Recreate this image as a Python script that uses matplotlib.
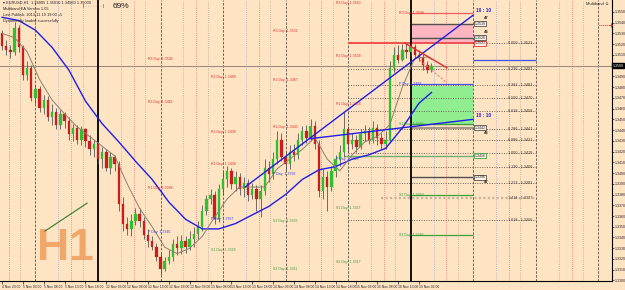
import matplotlib
matplotlib.use("Agg")
import matplotlib.pyplot as plt
from matplotlib.patches import Rectangle
import numpy as np

# ---------------- data (EURUSD H1) ----------------
opens = [1.3530,1.3518,1.3515,1.3513,1.3535,1.3517,1.3491,1.3498,1.3470,1.3478,
1.3461,1.3468,1.3452,1.3457,1.3445,1.3455,1.3448,1.3436,1.3442,1.3431,
1.3441,1.3430,1.3422,1.3427,1.3413,1.3420,1.3405,1.3415,1.3408,1.3371,
1.3353,1.3348,1.3355,1.3362,1.3355,1.3342,1.3337,1.3331,1.3322,1.3311,
1.3318,1.3322,1.3334,1.3330,1.3337,1.3331,1.3339,1.3343,1.3350,1.3365,
1.3376,1.3380,1.3357,1.3385,1.3394,1.3402,1.3390,1.3396,1.3385,1.3391,
1.3380,1.3385,1.3376,1.3383,1.3405,1.3399,1.3413,1.3431,1.3415,1.3408,
1.3420,1.3417,1.3431,1.3439,1.3433,1.3444,1.3427,1.3383,1.3396,1.3387,
1.3402,1.3413,1.3420,1.3441,1.3427,1.3431,1.3424,1.3436,1.3439,1.3431,
1.3442,1.3433,1.3427,1.3431,1.3498,1.3510,1.3505,1.3515,1.3513,1.3517,
1.3510,1.3507,1.3501,1.3496]
highs = [1.3533,1.3524,1.3519,1.3541,1.3538,1.3519,1.3504,1.3501,1.3482,1.3481,
1.3473,1.3472,1.3464,1.3461,1.3459,1.3457,1.3452,1.3446,1.3445,1.3444,
1.3442,1.3435,1.3431,1.3430,1.3424,1.3422,1.3420,1.3417,1.3411,1.3378,
1.3359,1.3362,1.3367,1.3367,1.3359,1.3348,1.3341,1.3335,1.3326,1.3322,
1.3328,1.3339,1.3341,1.3342,1.3341,1.3346,1.3350,1.3355,1.3370,1.3380,
1.3385,1.3383,1.3390,1.3402,1.3407,1.3405,1.3402,1.3400,1.3396,1.3394,
1.3391,1.3389,1.3389,1.3413,1.3411,1.3420,1.3439,1.3437,1.3420,1.3426,
1.3427,1.3437,1.3444,1.3445,1.3450,1.3448,1.3431,1.3404,1.3402,1.3407,
1.3417,1.3426,1.3457,1.3444,1.3437,1.3435,1.3441,1.3445,1.3443,1.3448,
1.3446,1.3437,1.3439,1.3504,1.3517,1.3519,1.3520,1.3520,1.3521,1.3520,
1.3515,1.3511,1.3504,1.3502]
lows = [1.3515,1.3510,1.3507,1.3510,1.3513,1.3487,1.3487,1.3467,1.3464,1.3457,
1.3455,1.3448,1.3445,1.3441,1.3441,1.3442,1.3431,1.3430,1.3427,1.3426,
1.3424,1.3417,1.3415,1.3408,1.3405,1.3402,1.3399,1.3402,1.3365,1.3346,
1.3342,1.3341,1.3352,1.3350,1.3339,1.3331,1.3328,1.3318,1.3305,1.3309,
1.3315,1.3318,1.3324,1.3325,1.3326,1.3328,1.3331,1.3339,1.3346,1.3361,
1.3371,1.3353,1.3354,1.3380,1.3387,1.3385,1.3383,1.3380,1.3378,1.3374,
1.3376,1.3365,1.3359,1.3380,1.3392,1.3394,1.3408,1.3411,1.3402,1.3404,
1.3411,1.3413,1.3426,1.3428,1.3430,1.3422,1.3378,1.3376,1.3365,1.3383,
1.3396,1.3407,1.3415,1.3420,1.3422,1.3420,1.3422,1.3430,1.3427,1.3428,
1.3426,1.3422,1.3422,1.3428,1.3494,1.3502,1.3504,1.3507,1.3509,1.3507,
1.3504,1.3496,1.3493,1.3494]
closes = [1.3518,1.3515,1.3513,1.3535,1.3517,1.3491,1.3498,1.3470,1.3478,1.3461,
1.3468,1.3452,1.3457,1.3445,1.3455,1.3448,1.3436,1.3442,1.3431,1.3441,
1.3430,1.3422,1.3427,1.3413,1.3420,1.3405,1.3415,1.3408,1.3371,1.3353,
1.3348,1.3355,1.3362,1.3355,1.3342,1.3337,1.3331,1.3322,1.3311,1.3318,
1.3322,1.3334,1.3330,1.3337,1.3331,1.3339,1.3343,1.3350,1.3365,1.3376,
1.3380,1.3357,1.3385,1.3394,1.3402,1.3390,1.3396,1.3385,1.3391,1.3380,
1.3385,1.3376,1.3383,1.3405,1.3399,1.3413,1.3431,1.3415,1.3408,1.3420,
1.3417,1.3431,1.3439,1.3433,1.3444,1.3427,1.3383,1.3396,1.3387,1.3402,
1.3413,1.3420,1.3441,1.3427,1.3431,1.3424,1.3436,1.3439,1.3431,1.3442,
1.3433,1.3427,1.3431,1.3498,1.3510,1.3505,1.3515,1.3513,1.3517,1.3510,
1.3507,1.3501,1.3496,1.3500]

slow_ma_idx = [0,4,8,12,16,20,24,28,32,36,40,44,48,52,56,60,64,68,72,76,80,84,88,92,96,100,103]
slow_ma = [1.3545,1.3542,1.3533,1.3517,1.3496,1.3467,1.3446,1.3429,1.3411,1.3394,1.3373,1.3357,
           1.3348,1.3348,1.3353,1.3361,1.3369,1.3380,1.3394,1.3403,1.3406,1.3413,1.3417,1.3423,
           1.3442,1.3465,1.3475]
fast_ma_idx = [0,3,6,9,12,15,18,21,24,27,30,33,36,39,42,45,48,51,54,57,60,63,66,69,72,75,78,81,
               84,87,90,93,96,99,102,103]
fast_ma = [1.3530,1.3526,1.3513,1.3487,1.3468,1.3455,1.3443,1.3434,1.3425,1.3416,1.3390,1.3367,
           1.3350,1.3331,1.3325,1.3330,1.3341,1.3359,1.3376,1.3387,1.3387,1.3387,1.3404,1.3413,
           1.3422,1.3433,1.3413,1.3402,1.3417,1.3429,1.3434,1.3445,1.3480,1.3507,1.3508,1.3506]

current_price = 1.3500

# pivot labels of previous days: (bar, price, text, kind)
pivot_labels = [
    (35, 1.3506, "R3 Day: 1.3506", "r"), (35, 1.3466, "R2 Day: 1.3466", "r"),
    (35, 1.3386, "R1 Day: 1.3386", "r"), (35, 1.3345, "P Day: 1.3345", "p"),
    (50, 1.3489, "R3 Day: 1.3489", "r"), (50, 1.3438, "R2 Day: 1.3438", "r"),
    (50, 1.3408, "R1 Day: 1.3408", "r"), (50, 1.3357, "P Day: 1.3357", "p"),
    (50, 1.3328, "S1 Day: 1.3328", "s"),
    (65, 1.3532, "R3 Day: 1.3532", "r"), (65, 1.3487, "R2 Day: 1.3487", "r"),
    (65, 1.3443, "R1 Day: 1.3443", "r"), (65, 1.3399, "P Day: 1.3399", "p"),
    (65, 1.3355, "S1 Day: 1.3355", "s"), (65, 1.3311, "S2 Day: 1.3311", "s"),
    (80, 1.3558, "R3 Day: 1.3560", "r"), (80, 1.3509, "R2 Day: 1.3509", "r"),
    (80, 1.3464, "R1 Day: 1.3464", "r"), (80, 1.3413, "P Day: 1.3413", "p"),
    (80, 1.3367, "S1 Day: 1.3367", "s"), (80, 1.3317, "S2 Day: 1.3317", "s"),
    (95.3, 1.3549, "R3 Day: 1.3549", "r"), (95.3, 1.3483, "P Day: 1.3483", "p"),
    (95.3, 1.3446, "S1 Day: 1.3446", "s"), (95.3, 1.3380, "S2 Day: 1.3380", "s"),
    (95.3, 1.3342, "S3 Day: 1.3342", "s"),
]

fib_ratios = [0.000, 0.236, 0.382, 0.500, 0.618, 0.786, 0.886, 1.000, 1.130, 1.272, 1.414, 1.618]
fib_prices = [1.3521, 1.3497, 1.3482, 1.3470, 1.3458, 1.3441, 1.3431, 1.3419, 1.3406, 1.3391, 1.3377, 1.3356]

date_labels = ["4 Nov 20:00","5 Nov 03:00","5 Nov 08:00","5 Nov 13:00","5 Nov 18:00",
               "12 Nov 03:00","12 Nov 08:00","12 Nov 13:00","12 Nov 18:00","13 Nov 03:00",
               "13 Nov 08:00","13 Nov 13:00","13 Nov 18:00","14 Nov 03:00","14 Nov 08:00",
               "14 Nov 13:00","14 Nov 18:00","15 Nov 03:00","15 Nov 08:00","18 Nov 13:00",
               "19 Nov 02:00"]
price_tick_labels = ["1.3%03d" % v for v in range(550, 299, -10)]

# ---------------- styling ----------------
BG = "#FFE4C4"
plt.rcParams["font.family"] = ["Liberation Sans", "DejaVu Sans"]

fig = plt.figure(figsize=(6.25, 2.9), dpi=100, facecolor=BG)
ax = fig.add_axes([0, 9/290, 612/625, 281/290], facecolor=BG)
ax.set_xlim(-0.5, 146.3)
ax.set_ylim(1.32995, 1.35611)

# vertical grid lines
for d in [-7, 8, 23, 38, 53, 68, 83, 98, 113, 128, 143]:
    if d in (23, 98):
        ax.axvline(d, color="black", lw=1.3, zorder=2.5)
    else:
        ax.axvline(d, color="#6E6255", lw=0.7, ls=(0, (2.5, 1.5)), zorder=1)
    ax.axvline(d + 5.5, color="#A6A6D2", lw=0.6, ls=(0, (1, 1.5)), zorder=1)
    ax.axvline(d + 8.6, color="#F07070", lw=0.6, ls=(0, (1, 1.5)), zorder=1)
    ax.axvline(d + 11.3, color="#B9A68F", lw=0.6, ls=(0, (1, 1.5)), zorder=1)

# bid line
ax.axhline(current_price, color="#9A8C7E", lw=0.8, zorder=2)

# current-day zones
ax.add_patch(Rectangle((98, 1.3521), 15, 1.3539 - 1.3521, facecolor="#FFB6C1", edgecolor="none", zorder=1.5))
ax.add_patch(Rectangle((98, 1.3446), 15, 1.3481 - 1.3446, facecolor="#90EE90", edgecolor="none", zorder=1.5))

def hline(y, x0, x1, color, lw=0.9, ls="-", z=2):
    ax.plot([x0, x1], [y, y], color=color, lw=lw, ls=ls, zorder=z, solid_capstyle="butt")

hline(1.3549, 98, 113, "#F06060", 0.9)
hline(1.3539, 98, 113, "#505050", 1.0)
hline(1.3526, 98, 113, "#505050", 1.0)
hline(1.3521, 83, 113, "#F05050", 1.4)
hline(1.3505, 113, 128, "#4050E0", 0.9)
hline(1.3483, 98, 113, "#4050E0", 0.9)
hline(1.3446, 98, 113, "#3CA03C", 1.0)
hline(1.3442, 98, 113, "#A89888", 1.5)
hline(1.3416, 82, 113, "#70B070", 1.0)
hline(1.3396, 98, 113, "#505050", 1.0)
hline(1.3380, 98, 113, "#3CA03C", 0.9)
hline(1.3342, 98, 113, "#3CA03C", 0.9)

# fibonacci levels
for r, p in zip(fib_ratios, fib_prices):
    if abs(r - 1.414) < 1e-6:
        hline(p, 91, 128, "#C8B49B", 1.6, (0, (1, 1)), 1.8)
    else:
        hline(p, 83, 128, "#6E6255", 0.7, (0, (1, 1.5)), 1.8)
    ax.text(121.3, p, "%.3f - %.4f" % (r, p), fontsize=2.7, color="#333333",
            va="center", ha="left", zorder=5)

# candles
x = np.arange(len(closes))
o = np.array(opens); c = np.array(closes); h = np.array(highs); l = np.array(lows)
up = c >= o
ax.vlines(x, l, h, colors="#4A4A4A", lw=0.55, zorder=3)
body_col = np.where(up, "#2EC02E", "#C81E1E")
ax.bar(x, np.maximum(np.abs(c - o), 0.00004), bottom=np.minimum(o, c), width=0.58,
       color=body_col, edgecolor=body_col, lw=0.2, zorder=3.2)

# moving averages
ax.plot(slow_ma_idx, slow_ma, color="#1E1EE6", lw=1.0, zorder=4)
ax.plot(fast_ma_idx, fast_ma, color="#8C7F6E", lw=0.7, zorder=4)

# trend lines
ax.plot([58.3, 113], [1.3387, 1.3547], color="#1E1EE6", lw=1.0, zorder=4)
ax.plot([73.9, 113], [1.3432, 1.3450], color="#1E1EE6", lw=1.0, zorder=4)
ax.plot([96.6, 106.7], [1.3521, 1.3498], color="#E03030", lw=1.0, zorder=4)
ax.plot([100.2, 106.7], [1.3505, 1.3484], color="#F08080", lw=0.8, ls=(0, (2, 1.5)), zorder=4)
ax.plot([10.3, 20.4], [1.3346, 1.3372], color="#2E7D2E", lw=0.8, zorder=4)

# pivot labels
pcol = {"r": "#E03030", "p": "#3040E0", "s": "#3C963C"}
for bx, py, txt, k in pivot_labels:
    ax.text(bx, py, txt, fontsize=2.5, color=pcol[k], va="center", ha="left", zorder=5)

# zone price boxes
def boxlabel(y, txt, ec):
    ax.text(113.3, y, txt, fontsize=2.6, color="#222222", va="center", ha="left", zorder=6,
            bbox=dict(boxstyle="square,pad=0.15", fc="#FFF4E6", ec=ec, lw=0.6))
boxlabel(1.3539, "1.3539", "#505050")
boxlabel(1.3526, "1.3526", "#505050")
boxlabel(1.3521, "1.3521", "#E03030")
boxlabel(1.3442, "1.3442", "#505050")
boxlabel(1.3416, "1.3416", "#3CA03C")
boxlabel(1.3396, "1.3396", "#505050")
ax.text(113.6, 1.3551, "10 : 10", fontsize=3.4, color="#1E1EE6", weight="bold", va="center", ha="left", zorder=6)
ax.text(113.6, 1.3454, "10 : 10", fontsize=3.4, color="#1E1EE6", weight="bold", va="center", ha="left", zorder=6)
for yy, t in [(1.3544, "47"), (1.3531, "43"), (1.3437, "43"), (1.3392, "47")]:
    ax.text(115.5, yy, t, fontsize=3.0, color="#222222", weight="bold", va="center", ha="left", zorder=6)

# alert marker on the right
ax.plot([143.3, 146.1], [1.3538, 1.3538], color="#E03030", lw=0.7, ls=(0, (1, 1)), zorder=4)
ax.plot([146.1], [1.3538], marker="+", color="#E03030", ms=3, mew=0.7, zorder=4)

# H1 watermark
ax.text(15.3, 1.3330, "H1", fontsize=32, weight="bold", color="#F0A060", alpha=0.9,
        ha="center", va="center", zorder=2.8, family="Liberation Sans")

# header texts
info = ["\u25BE EURUSD,H1  1.34995 1.35010 1.34960 1.35000", "Multiband EA Version 1.05",
        "Last Publish: 2013.11.19 19:00 +5", "Dynamically loaded successfully"]
for k, t in enumerate(info):
    ax.text(3/612, 1 - (3 + 6*k)/281, t, transform=ax.transAxes, fontsize=2.8,
            color="#222222", va="center", ha="left", zorder=6)
ax.text(83/612, 1 - 6/281, "| . . . . . . . |", transform=ax.transAxes, fontsize=3.2,
        color="#333333", va="center", ha="left", zorder=6)
ax.text(113/612, 1 - 6/281, "69%", transform=ax.transAxes, fontsize=6.0,
        color="#222222", va="center", ha="left", zorder=6)
ax.text(609/612, 1 - 4/281, "Multiband \u263A", transform=ax.transAxes, fontsize=3.0,
        color="#222222", va="center", ha="right", zorder=6)

# axes
for s in ["top", "left"]:
    ax.spines[s].set_visible(False)
for s in ["right", "bottom"]:
    ax.spines[s].set_color("black")
    ax.spines[s].set_linewidth(0.8)
ax.yaxis.tick_right()
ax.set_yticks([float(t) for t in price_tick_labels])
# the current-price box takes the place of the regular label at its level
ax.set_yticklabels(["" if abs(float(t) - current_price) < 1e-9 else t for t in price_tick_labels])
ax.tick_params(axis="y", labelsize=2.6, length=1.5, width=0.5, pad=0.6, colors="#222222")
ax.set_xticks(list(range(0, 101, 5)))
ax.set_xticklabels(date_labels, ha="left")
ax.tick_params(axis="x", labelsize=2.4, length=2, width=0.5, pad=1.2, colors="#222222")
ax.annotate("%.4f" % current_price, xy=(1.0, current_price), xycoords=("axes fraction", "data"),
            xytext=(0.6, 0), textcoords="offset points", fontsize=2.6, color="white",
            va="center", ha="left", annotation_clip=False, zorder=7,
            bbox=dict(boxstyle="square,pad=0.15", fc="black", ec="black"))

fig.savefig("out.png", dpi=100, facecolor=BG)
